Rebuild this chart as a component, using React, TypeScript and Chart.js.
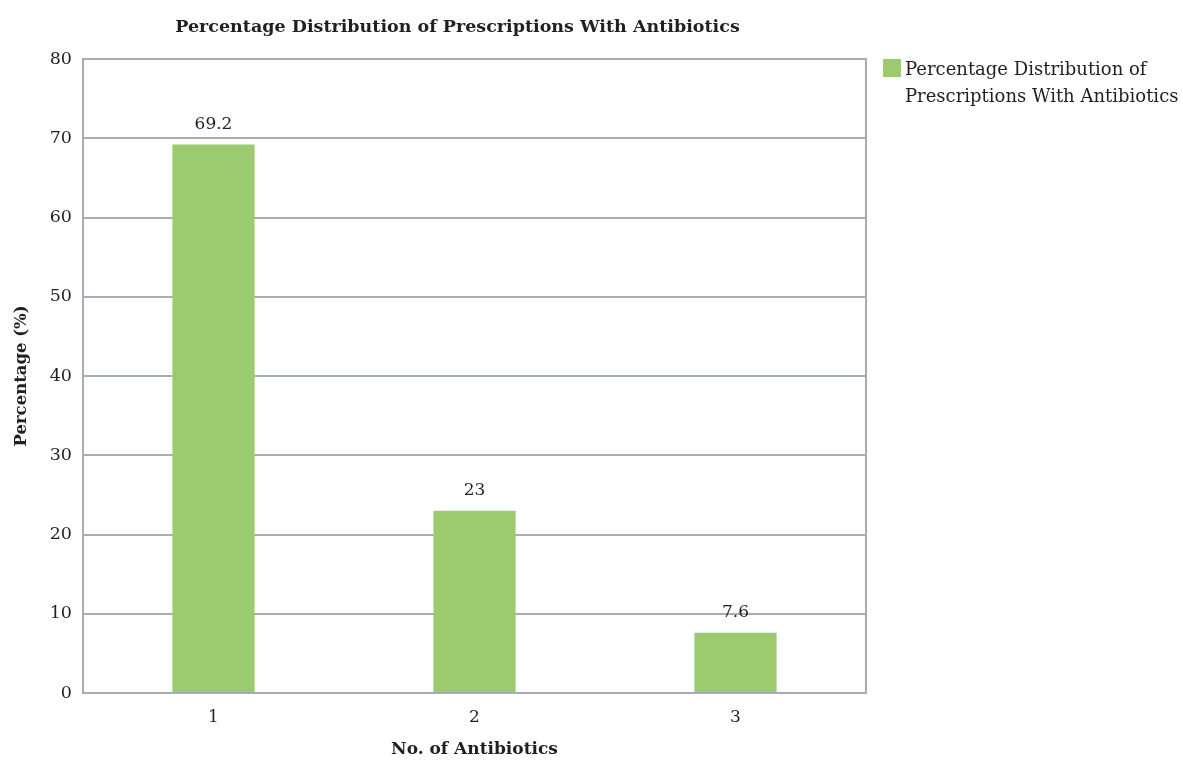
import React, { useEffect, useRef } from "react";
import { Chart, registerables } from "chart.js";

Chart.register(...registerables);

const categories = ["1", "2", "3"];
const values = [69.2, 23, 7.6];
const valueLabels = ["69.2", "23", "7.6"];
const seriesName = "Percentage Distribution of Prescriptions With Antibiotics";
const legendLines = ["Percentage Distribution of", "Prescriptions With Antibiotics"];
const yTicks = [0, 10, 20, 30, 40, 50, 60, 70, 80];

const FONT = "'DejaVu Serif', serif";
const TEXT = "#231f20";
const GRID = "#a6adb4";
const BAR = "#9bca6f";

const valueLabelPlugin = {
  id: "valueLabels",
  afterDatasetsDraw(chart: any) {
    const ctx = chart.ctx;
    const meta = chart.getDatasetMeta(0);
    ctx.save();
    ctx.font = `17px ${FONT}`;
    ctx.fillStyle = TEXT;
    ctx.textAlign = "center";
    ctx.textBaseline = "middle";
    meta.data.forEach((bar: any, i: number) => {
      ctx.fillText(valueLabels[i], bar.x, bar.y - 20);
    });
    ctx.restore();
  },
};

const titlePlugin = {
  id: "sideTitle",
  afterDraw(chart: any) {
    const ctx = chart.ctx;
    const area = chart.chartArea;
    ctx.save();
    ctx.font = `bold 17.5px ${FONT}`;
    ctx.fillStyle = TEXT;
    ctx.textAlign = "center";
    ctx.textBaseline = "middle";
    ctx.fillText(seriesName, (area.left + area.right) / 2 - 17, 27);
    ctx.restore();
  },
};

const sideLegendPlugin = {
  id: "sideLegend",
  afterDraw(chart: any) {
    const ctx = chart.ctx;
    const area = chart.chartArea;
    const x = area.right + 17;
    const y = area.top;
    ctx.save();
    ctx.fillStyle = BAR;
    ctx.fillRect(x, y, 18, 18);
    ctx.font = `18px ${FONT}`;
    ctx.fillStyle = TEXT;
    ctx.textAlign = "left";
    ctx.textBaseline = "middle";
    legendLines.forEach((line, i) => {
      ctx.fillText(line, x + 22, y + 11 + i * 27);
    });
    ctx.restore();
  },
};

export default function App() {
  const ref = useRef<HTMLCanvasElement>(null);
  useEffect(() => {
    document.body.style.margin = "0";
    const chart = new Chart(ref.current!, {
      type: "bar",
      data: {
        labels: categories,
        datasets: [
          {
            label: seriesName,
            data: values,
            backgroundColor: BAR,
            borderWidth: 0,
            categoryPercentage: 1,
            barPercentage: 0.315,
          },
        ],
      },
      plugins: [valueLabelPlugin, titlePlugin, sideLegendPlugin],
      options: {
        responsive: false,
        animation: false,
        layout: { padding: { left: 0, right: 317, top: 59, bottom: 0 } },
        plugins: {
          legend: { display: false },
          tooltip: { enabled: false },
          title: { display: false },
        },
        scales: {
          x: {
            grid: { display: false, drawTicks: false },
            border: { display: true, color: GRID, width: 2 },
            ticks: { color: TEXT, font: { family: FONT, size: 17 }, padding: 14 },
            title: {
              display: true,
              text: "No. of Antibiotics",
              color: TEXT,
              font: { family: FONT, size: 17, weight: "bold" },
              padding: { top: 0, bottom: 0 },
            },
            afterFit(scale: any) {
              scale.height = 67;
            },
          },
          y: {
            min: 0,
            max: 80,
            afterBuildTicks(scale: any) {
              scale.ticks = yTicks.map((v) => ({ value: v }));
            },
            grid: { color: GRID, lineWidth: 2, drawTicks: false },
            border: { display: true, color: GRID, width: 2 },
            ticks: { color: TEXT, font: { family: FONT, size: 17.5 }, padding: 11 },
            title: {
              display: true,
              text: "Percentage (%)",
              color: TEXT,
              font: { family: FONT, size: 16.5, weight: "bold" },
              padding: { top: 12, bottom: 0 },
            },
            afterFit(scale: any) {
              scale.width = 83;
            },
          },
          y2: {
            position: "right",
            min: 0,
            max: 80,
            grid: { display: false, drawTicks: false },
            border: { display: true, color: GRID, width: 2 },
            ticks: { display: false },
            afterFit(scale: any) {
              scale.width = 0;
            },
          },
        },
      },
    } as any);
    return () => chart.destroy();
  }, []);
  return <canvas ref={ref} width={1183} height={760} style={{ display: "block" }} />;
}
